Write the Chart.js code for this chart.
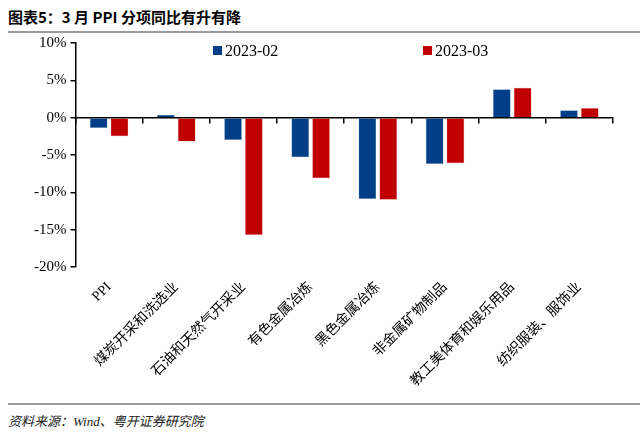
<!DOCTYPE html>
<html>
<head>
<meta charset="utf-8">
<script src="https://cdn.jsdelivr.net/npm/chart.js@4"></script>
<style>
  html, body { margin: 0; padding: 0; background: #fff; }
  body { width: 640px; height: 442px; position: relative; overflow: hidden; }
  #title { position: absolute; left: 8px; top: 6px; font: bold 15px "Noto Sans CJK SC", sans-serif; color: #000; white-space: nowrap; }
  .rule { position: absolute; left: 8px; right: 0; height: 2px; background: #9a9a9a; }
  #chart-box { position: absolute; left: 0; top: 30px; width: 640px; height: 370px; }
  .legend-item { position: absolute; font: 16px "Liberation Serif", serif; color: #000; white-space: nowrap; }
  .legend-item span { display: inline-block; width: 9px; height: 9px; margin-right: 3px; vertical-align: 1px; }
  #source { position: absolute; left: 8px; top: 411px; font: italic 13px "Liberation Serif", "Noto Sans CJK SC", serif; color: #222; }
</style>
</head>
<body>
<div id="title">图表5：3 月 PPI 分项同比有升有降</div>
<div class="rule" style="top:31px"></div>
<div id="chart-box"><canvas id="ppi-chart"></canvas></div>
<div id="legend"></div>
<div class="rule" style="top:403px"></div>
<div id="source">资料来源：Wind、粤开证券研究院</div>

<script>
const categories = ["PPI", "煤炭开采和洗选业", "石油和天然气开采业", "有色金属冶炼", "黑色金属冶炼", "非金属矿物制品", "教工美体育和娱乐用品", "纺织服装、服饰业"];
const seriesLabels = ["2023-02", "2023-03"];
const feb = [-1.4, 0.4, -3.0, -5.3, -10.9, -6.2, 3.8, 1.0];
const mar = [-2.5, -3.2, -15.7, -8.1, -11.0, -6.1, 4.0, 1.3];
const seriesColors = ["#003f87", "#c00000"];
const legendX = [213, 423];

const ctx = document.getElementById("ppi-chart");

new Chart(ctx, {
  type: "bar",
  data: {
    labels: categories,
    datasets: [
      {
        label: seriesLabels[0],
        data: feb,
        backgroundColor: seriesColors[0],
        borderColor: "#8fa9cc",
        borderWidth: 0.5,
        barPercentage: 0.85,
        categoryPercentage: 0.62,
      },
      {
        label: seriesLabels[1],
        data: mar,
        backgroundColor: seriesColors[1],
        borderColor: "#f0a0a0",
        borderWidth: 0.5,
        barPercentage: 0.85,
        categoryPercentage: 0.62,
      },
    ],
  },
  options: {
    responsive: true,
    maintainAspectRatio: false,
    animation: false,
    layout: { padding: { left: 30, right: 27, top: 6, bottom: 0 } },
    plugins: {
      legend: { display: false },
      tooltip: { enabled: false },
    },
    scales: {
      x: {
        type: "category",
        grid: { display: false },
        border: { display: false },
        ticks: {
          minRotation: 45,
          maxRotation: 45,
          autoSkip: false,
          padding: 4,
          color: "#000",
          font: { family: "'Liberation Serif', 'Noto Sans CJK SC'", size: 14 },
        },
        afterFit: (scale) => { scale.height = 133; },
      },
      x2: {
        type: "category",
        labels: categories,
        position: { y: 0 },
        grid: { offset: true, drawOnChartArea: false, tickLength: 5, color: "#000", lineWidth: 1.5 },
        border: { color: "#000", width: 1.5 },
        ticks: { display: false },
      },
      y: {
        min: -20,
        max: 10,
        grid: { drawOnChartArea: false, tickLength: 5, color: "#000", lineWidth: 1.5 },
        border: { color: "#000", width: 1.5 },
        ticks: {
          stepSize: 5,
          padding: 4,
          color: "#000",
          font: { family: "'Liberation Serif'", size: 15 },
          callback: (v) => v + "%",
        },
      },
    },
  },
});

const legend = document.getElementById("legend");
seriesLabels.forEach((label, i) => {
  const item = document.createElement("div");
  item.className = "legend-item";
  item.style.left = legendX[i] + "px";
  item.style.top = "42px";
  item.innerHTML = '<span style="background:' + seriesColors[i] + '"></span>' + label;
  legend.appendChild(item);
});
</script>
</body>
</html>
